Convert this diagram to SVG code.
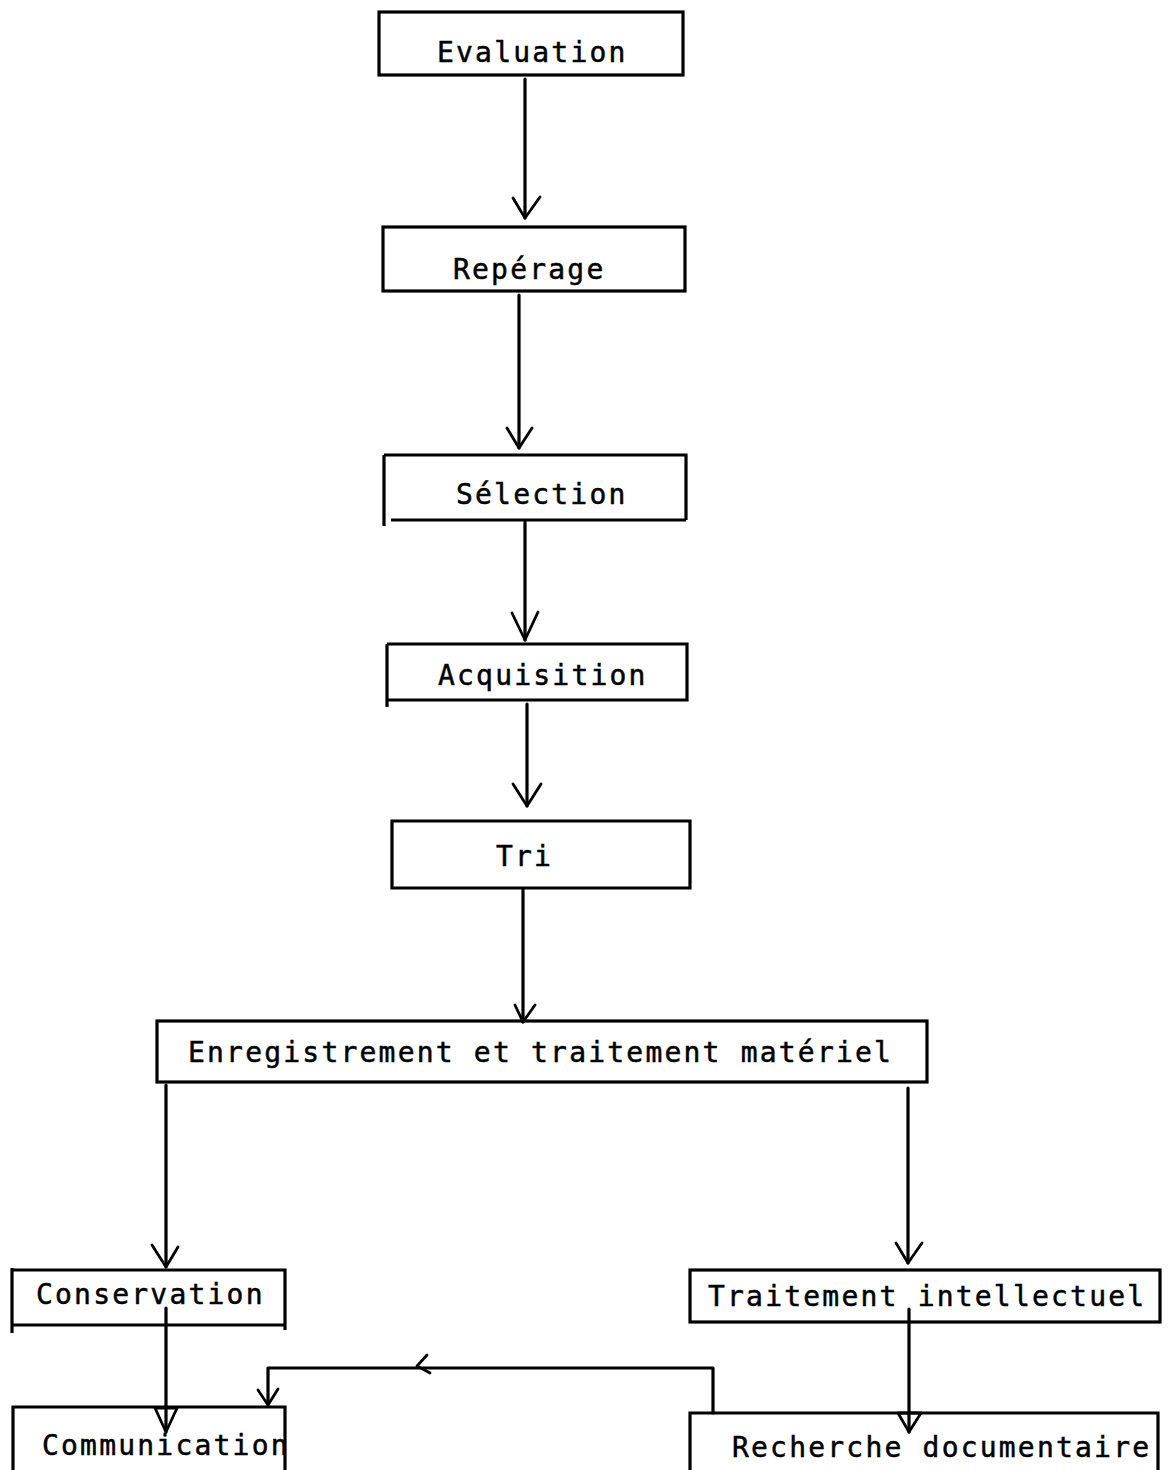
<svg xmlns="http://www.w3.org/2000/svg" width="1168" height="1470" viewBox="0 0 1168 1470">
<style>
.box{fill:none;stroke:#000;stroke-width:3.2;stroke-linejoin:miter}
.lbl{font-family:"DejaVu Sans Mono","Liberation Mono",monospace;font-size:28px;letter-spacing:2.2px;fill:#000;stroke:#000;stroke-width:0.5}
.ln{fill:none;stroke:#000;stroke-width:3.2;stroke-linecap:round;stroke-linejoin:round}
.hd{fill:none;stroke:#000;stroke-width:2.8;stroke-linecap:round;stroke-linejoin:round}
</style>
<rect width="1168" height="1470" fill="#fff"/>
<g id="n-evaluation">
<rect class="box" x="379" y="12" width="304" height="63"/>
<text class="lbl" x="437" y="62">Evaluation</text>
</g>
<g id="n-reperage">
<rect class="box" x="383" y="227" width="302" height="64"/>
<text class="lbl" x="453" y="279">Repérage</text>
</g>
<g id="n-selection">
<path class="box" d="M384 455 H686 V520 M686 520 H391 M384 455 V526"/>
<text class="lbl" x="456" y="504">Sélection</text>
</g>
<g id="n-acquisition">
<path class="box" d="M387 644 H687 V700 H387 M387 644 V707"/>
<text class="lbl" x="438" y="685">Acquisition</text>
</g>
<g id="n-tri">
<path class="box" d="M392 821 H690 V888 H392 Z"/>
<text class="lbl" x="496" y="866">Tri</text>
</g>
<g id="n-enregistrement">
<rect class="box" x="157" y="1021" width="770" height="61"/>
<text class="lbl" x="188" y="1062">Enregistrement et traitement matériel</text>
</g>
<g id="n-conservation">
<path class="box" d="M12 1270 H285 V1330 M285 1325 H12 M12 1268 V1333"/>
<text class="lbl" x="36" y="1304">Conservation</text>
</g>
<g id="n-traitement">
<rect class="box" x="690" y="1270" width="470" height="52"/>
<text class="lbl" x="708" y="1306">Traitement intellectuel</text>
</g>
<g id="n-communication">
<path class="box" d="M13 1470 V1407 H285 V1470"/>
<text class="lbl" x="42" y="1455">Communication</text>
</g>
<g id="n-recherche">
<path class="box" d="M690 1470 V1413 H1158 V1470"/>
<text class="lbl" x="732" y="1457">Recherche documentaire</text>
</g>
<g id="connectors">
<line class="ln" x1="525" y1="79" x2="525" y2="218"/>
<path class="hd" d="M513 198 L525 218 L540 197"/>
<line class="ln" x1="519" y1="295" x2="519" y2="448"/>
<path class="hd" d="M507 428 L519 448 L532 428"/>
<line class="ln" x1="525" y1="522" x2="525" y2="640"/>
<path class="hd" d="M512 613 L525 640 L538 612"/>
<line class="ln" x1="527" y1="704" x2="527" y2="806"/>
<path class="hd" d="M513 784 L527 806 L541 784"/>
<line class="ln" x1="523" y1="890" x2="523" y2="1022"/>
<path class="hd" d="M515 1005 L523 1022 L535 1005"/>
<line class="ln" x1="166" y1="1085" x2="166" y2="1267"/>
<path class="hd" d="M152 1245 L166 1267 L178 1247"/>
<line class="ln" x1="908" y1="1088" x2="908" y2="1263"/>
<path class="hd" d="M896 1243 L908 1263 L922 1243"/>
<line class="ln" x1="166" y1="1308" x2="166" y2="1432"/>
<path class="hd" d="M155 1408 L177 1408 L166 1432 Z"/>
<line class="ln" x1="909" y1="1309" x2="909" y2="1432"/>
<path class="hd" d="M898 1413 L921 1413 L909 1432 Z"/>
<path class="ln" d="M713 1413 V1368 H268 V1405"/>
<path class="hd" d="M258 1390 L268 1405 L278 1389"/>
<path class="hd" d="M427 1355 L417 1366 L430 1373"/>
</g>
</svg>
